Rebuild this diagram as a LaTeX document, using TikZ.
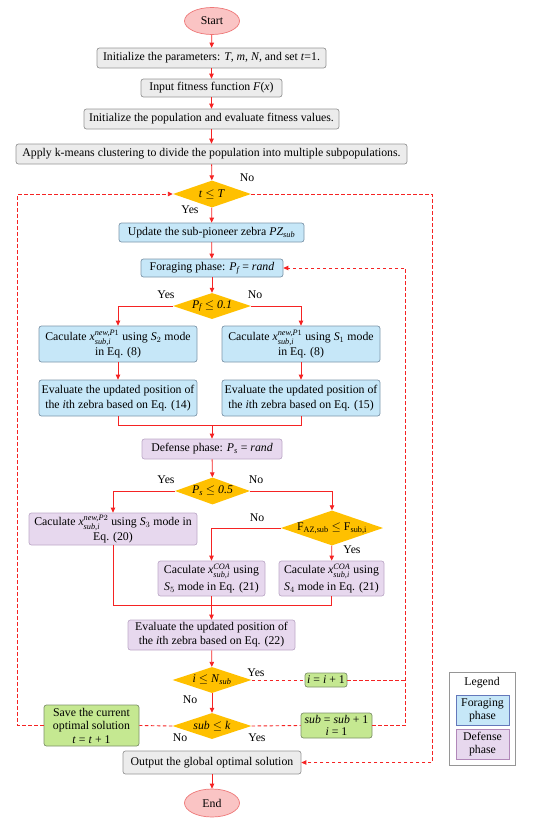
\documentclass[tikz,border=0pt]{standalone}
\usepackage{amsmath}
\usepackage{fontspec}
\setmainfont{Liberation Serif}
\usetikzlibrary{shapes.geometric,arrows.meta}
\definecolor{grayF}{RGB}{236,236,236}
\definecolor{grayD}{RGB}{150,150,150}
\definecolor{blueF}{RGB}{198,231,248}
\definecolor{blueD}{RGB}{125,150,170}
\definecolor{purF}{RGB}{231,216,238}
\definecolor{purD}{RGB}{190,170,200}
\definecolor{grnF}{RGB}{197,232,145}
\definecolor{grnD}{RGB}{125,145,105}
\definecolor{orgF}{RGB}{255,192,0}
\definecolor{ellF}{RGB}{250,196,196}
\definecolor{ellD}{RGB}{238,120,120}
\definecolor{lineR}{RGB}{245,35,35}
\newcommand{\mi}[1]{\textit{#1}}
\tikzset{
  every node/.style={font=\fontsize{11.8}{15}\selectfont},
  boxbase/.style={draw, rounded corners=2.5pt, align=center, inner sep=0.5pt, line width=0.7pt},
  graybox/.style={boxbase, fill=grayF, draw=grayD},
  bluebox/.style={boxbase, fill=blueF, draw=blueD},
  purbox/.style={boxbase, fill=purF, draw=purD},
  grnbox/.style={boxbase, fill=grnF, draw=grnD},
  decision/.style={diamond, fill=orgF, draw=none, inner sep=0pt, aspect=3},
  terminal/.style={ellipse, fill=ellF, draw=ellD, line width=0.7pt, inner sep=0pt},
  con/.style={draw=lineR, line width=0.8pt, -{Triangle[length=5pt,width=4.5pt]}},
  plain/.style={draw=lineR, line width=0.8pt},
  dcon/.style={draw=lineR, line width=0.9pt, dash pattern=on 3.5pt off 2.5pt, -{Triangle[length=5pt,width=4.5pt]}},
  dplain/.style={draw=lineR, line width=0.9pt, dash pattern=on 3.5pt off 2.5pt},
  lbl/.style={inner sep=0pt}
}
\begin{document}
\begin{tikzpicture}[x=1pt,y=-1pt]
\useasboundingbox (0,0) rectangle (550,822);
% nodes
\node[terminal, minimum width=55pt, minimum height=27pt] (start) at (212,21) {Start};
\node[graybox, minimum width=229pt, minimum height=20pt] (b1) at (211.5,58) {Initialize the parameters: \mi{T}, \mi{m}, \mi{N}, and set \mi{t}=1.};
\node[graybox, minimum width=141pt, minimum height=18pt] (b2) at (211.5,88) {Input fitness function \mi{F}(\mi{x})};
\node[graybox, minimum width=255pt, minimum height=20pt] (b3) at (211.5,119) {Initialize the population and evaluate fitness values.};
\node[graybox, minimum width=391pt, minimum height=20pt] (b4) at (211.5,154) {Apply k-means clustering to divide the population into multiple subpopulations.};
\node[decision, minimum width=78pt, minimum height=27pt] (d1) at (212,194) {\mi{t} $\leq$ \mi{T}};
\node[bluebox, minimum width=185pt, minimum height=19pt] (b5) at (211.5,232.5) {Update the sub-pioneer zebra \mi{PZ}$_{\textit{sub}}$};
\node[bluebox, minimum width=142pt, minimum height=18pt] (b6) at (212,268) {Foraging phase: \mi{P}$_{\textit{f}}$ = \mi{rand}};
\node[decision, minimum width=78pt, minimum height=26pt] (d2) at (212,306) {\mi{P}$_{\textit{f}}$ $\leq$ \mi{0.1}};
\node[bluebox, minimum width=158pt, minimum height=36pt] (b7L) at (118,344) {Caculate \mi{x}$^{\textit{new,P}1}_{\textit{sub,i}}$ using \mi{S}$_2$ mode\\in Eq. (8)};
\node[bluebox, minimum width=158pt, minimum height=36pt] (b7R) at (301,344) {Caculate \mi{x}$^{\textit{new,P}1}_{\textit{sub,i}}$ using \mi{S}$_1$ mode\\in Eq. (8)};
\node[bluebox, minimum width=158pt, minimum height=36pt] (b8L) at (118,398) {Evaluate the updated position of\\the \mi{i}th zebra based on Eq. (14)};
\node[bluebox, minimum width=158pt, minimum height=36pt] (b8R) at (301,398) {Evaluate the updated position of\\the \mi{i}th zebra based on Eq. (15)};
\node[purbox, minimum width=140pt, minimum height=20pt] (b9) at (212,449) {Defense phase: \mi{P}$_{\textit{s}}$ = \mi{rand}};
\node[decision, minimum width=75pt, minimum height=27pt] (d3) at (212.5,491) {\mi{P}$_{\textit{s}}$ $\leq$ \mi{0.5}};
\node[purbox, minimum width=168pt, minimum height=32pt] (b10) at (113,529) {Caculate \mi{x}$^{\textit{new,P}2}_{\textit{sub,i}}$ using \mi{S}$_3$ mode in\\Eq. (20)};
\node[decision, minimum width=97pt, minimum height=35pt] (d4) at (332,528) {F$_{\text{AZ,sub}}$ $\leq$ F$_{\text{sub,i}}$};
\node[purbox, minimum width=107pt, minimum height=35pt, font=\fontsize{11.8}{16.5}\selectfont] (b11) at (211.5,578.5) {Caculate \mi{x}$^{\textit{COA}}_{\textit{sub,i}}$ using\\\mi{S}$_5$ mode in Eq. (21)};
\node[purbox, minimum width=105pt, minimum height=35pt, font=\fontsize{11.8}{16.5}\selectfont] (b12) at (331.5,578.5) {Caculate \mi{x}$^{\textit{COA}}_{\textit{sub,i}}$ using\\\mi{S}$_4$ mode in Eq. (21)};
\node[purbox, minimum width=167pt, minimum height=30pt, font=\fontsize{11.8}{14}\selectfont] (b13) at (211.5,635) {Evaluate the updated position of\\the \mi{i}th zebra based on Eq. (22)};
\node[decision, minimum width=79pt, minimum height=26pt] (d5) at (212,680) {\mi{i} $\leq$ \mi{N}$_{\textit{sub}}$};
\node[grnbox, minimum width=42pt, minimum height=14pt, inner sep=0.3pt] (g1) at (326,680) {\mi{i} = \mi{i} + 1};
\node[decision, minimum width=79pt, minimum height=26pt] (d6) at (212,726) {\mi{sub} $\leq$ \mi{k}};
\node[grnbox, minimum width=95pt, minimum height=41pt, font=\fontsize{11.8}{13.5}\selectfont] (g2) at (91.5,725.5) {Save the current\\optimal solution\\\mi{t} = \mi{t} + 1};
\node[grnbox, minimum width=71pt, minimum height=25pt, font=\fontsize{11.8}{12}\selectfont] (g3) at (336.5,725.5) {\mi{sub} = \mi{sub} + 1\\\mi{i} = 1};
\node[graybox, minimum width=178pt, minimum height=23pt] (b14) at (212,762.5) {Output the global optimal solution};
\node[terminal, minimum width=55pt, minimum height=28pt] (end) at (212,803) {End};
% legend
\node[draw=grayD, fill=white, line width=0.7pt, minimum width=66pt, minimum height=93pt, inner sep=0pt] (leg) at (482,718.5) {};
\node[lbl] (legt) at (482,683) {Legend};
\node[boxbase, rounded corners=0pt, fill=blueF, draw=blueD!80!blue, minimum width=53pt, minimum height=30pt, font=\fontsize{11.8}{13}\selectfont] (lf) at (482.5,710) {Foraging\\phase};
\node[boxbase, rounded corners=0pt, fill=purF, draw=purD!80!violet, minimum width=53pt, minimum height=30pt, font=\fontsize{11.8}{13}\selectfont] (ld) at (482.5,744) {Defense\\phase};
% coordinates
\coordinate (m1) at (212,425);
\coordinate (m2) at (212,605);
\coordinate (xr1) at (405.5,500);
\coordinate (xr2) at (432,500);
% main flow
\draw[con] (start) -- (b1);
\draw[con] (b1) -- (b2);
\draw[con] (b2) -- (b3);
\draw[con] (b3) -- (b4);
\draw[con] (b4) -- (d1);
\draw[con] (d1) -- (b5);
\draw[con] (b5) -- (b6);
\draw[con] (b6) -- (d2);
\draw[con] (d2.west) -| (b7L.north);
\draw[con] (d2.east) -| (b7R.north);
\draw[con] (b7L) -- (b8L);
\draw[con] (b7R) -- (b8R);
\draw[plain] (b8L.south) |- (m1);
\draw[plain] (b8R.south) |- (m1);
\draw[con] (m1) -- (b9);
\draw[con] (b9) -- (d3);
\draw[con] (d3.west) -| (b10.north);
\draw[con] (d3.east) -| (d4.north);
\draw[con] (d4.west) -| (b11.north);
\draw[con] (d4) -- (b12);
\draw[plain] (b10.south) |- (m2);
\draw[plain] (b12.south) |- (m2);
\draw[con] (b11) -- (b13);
\draw[con] (b13) -- (d5);
\draw[con] (d5) -- (d6);
\draw[con] (b14) -- (end);
% dashed loops
\draw[dplain] (d5.east) -- (g1.west);
\draw[dplain] (g1.east) -- (g1.east -| xr1);
\draw[dplain] (d6.east) -- (g3.west);
\draw[dcon] (g3.east) -| (xr1) |- (b6.east);
\draw[dplain] (d6.west) -- (g2.east);
\draw[dcon] (g2.west) -- ++(-26,0) |- (d1.west);
\draw[dcon] (d1.east) -| (xr2) |- (b14.east);
% labels
\node[lbl] at (247,178) {No};
\node[lbl] at (190,210) {Yes};
\node[lbl] at (166,295) {Yes};
\node[lbl] at (255,295) {No};
\node[lbl] at (166,480) {Yes};
\node[lbl] at (256,480) {No};
\node[lbl] at (257,518) {No};
\node[lbl] at (352,550) {Yes};
\node[lbl] at (256,673) {Yes};
\node[lbl] at (190,700) {No};
\node[lbl] at (180,738) {No};
\node[lbl] at (257,738) {Yes};
\end{tikzpicture}
\end{document}
